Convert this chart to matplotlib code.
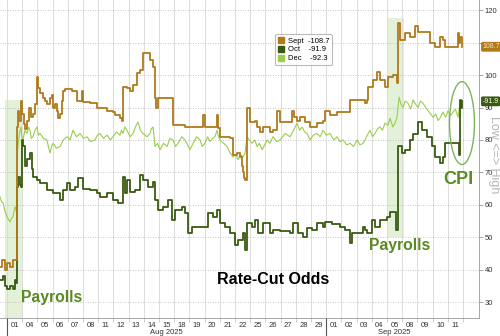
import matplotlib
matplotlib.use("Agg")
import matplotlib.pyplot as plt
import matplotlib.transforms as mtrans
from matplotlib.patches import Patch, Ellipse, Rectangle

plt.rcParams['font.family'] = ['Liberation Sans', 'DejaVu Sans']

# -----------------------------
# Data (x = trading-day index, 0 = Aug 1 2025)
# -----------------------------
day_labels = ["01", "04", "05", "06", "07", "08", "11", "12", "13", "14", "15",
              "18", "19", "20", "21", "22", "25", "26", "27", "28", "29",
              "01", "02", "03", "04", "05", "08", "09", "10", "11"]

y_ticks = [30, 40, 50, 60, 70, 80, 90, 100, 110, 120]
y_tick_labels = ["30", "40", "50", "60", "70", "80", "90", "100", "", "120"]

sept_t = [-0.46, -0.3, -0.15, 0.0, 0.2, 0.39, 0.55,
          0.66, 0.72, 0.8, 0.92, 0.99, 1.1, 1.18, 1.32, 1.45, 1.55, 1.71, 1.84, 1.97,
          2.05, 2.17, 2.37, 2.5, 2.63, 2.83, 2.96, 3.03, 3.15, 3.29, 3.36, 3.49, 3.62,
          3.68, 3.8, 4.01, 4.3, 4.61, 4.8, 4.93, 5.0, 5.46, 5.92, 6.3, 6.58, 6.97, 7.11,
          7.43, 7.55, 7.63, 7.89, 8.1, 8.29, 8.55, 8.75, 8.95, 9.21, 9.41, 9.61, 9.74,
          9.8, 9.93, 10.72, 10.92, 11.71, 12.7, 12.89, 13.03, 13.82, 13.88, 14.01, 14.67,
          14.87, 15.1, 15.33, 15.45, 15.53, 15.59, 15.66, 15.79, 15.99, 16.32, 16.45,
          16.64, 16.84, 17.3, 17.5, 17.76, 17.96, 18.42, 18.75, 18.9, 19.08, 19.28,
          19.61, 19.93, 20.39, 20.79, 20.92, 21.25, 21.71, 22.37, 22.57, 23.22, 23.55,
          23.68, 23.75, 24.08, 24.34, 24.54, 24.87, 25.07, 25.39, 25.66, 25.72, 25.85,
          26.18, 26.51, 26.84, 27.04, 27.63, 27.83, 28.16, 28.49, 28.68, 28.82, 29.61,
          29.67, 29.74, 29.8, 29.93]
sept_v = [41, 43, 40, 42, 41, 43, 43,
          84, 89, 86, 92, 88, 85, 83.5, 86, 90, 87, 88, 91, 99.4,
          96, 94.5, 93, 92, 91, 93, 94, 90, 91, 89, 86.7, 88, 92,
          95, 95.6, 95.6, 95, 92, 92, 95, 91.7, 91.3, 90, 90, 89, 88.5, 87.7,
          86.7, 86, 96.3, 96, 95, 97, 100.6, 101.5, 106.7, 106.7, 104.6, 102.5, 93,
          90, 93, 93, 84.6, 84, 84, 87.7, 84, 87.7, 83.7, 81, 80.6,
          75.4, 76, 74.8, 72, 70, 68.3, 67.7, 90, 85.5, 86, 84,
          82.5, 84, 82.5, 83, 89, 85.5, 85.5, 89, 87, 86, 87,
          85.5, 84, 85.2, 86, 89, 87.7, 88.6, 88.6, 92.3, 92.3, 91.3,
          92.3, 96.3, 98.5, 101, 98.5, 96.3, 99.4, 100, 97.5, 116, 110.8,
          113, 111.8, 115, 113.3, 113.3, 109.8, 108.6, 111.8, 110.8, 108.6, 108.6,
          113, 109.8, 111.8, 108.7]

oct_t = [-0.46, -0.26, -0.1, 0.0, 0.2, 0.39, 0.53, 0.62, 0.66, 0.72, 0.85, 0.92, 0.99,
         1.05, 1.18, 1.32, 1.51, 1.64, 1.71, 1.97, 2.17, 2.63, 3.03, 3.49, 3.68, 3.95,
         4.14, 4.47, 4.67, 5.0, 5.46, 5.92, 6.12, 6.58, 6.97, 7.3, 7.63, 7.75, 7.89,
         8.09, 8.42, 8.75, 8.95, 9.28, 9.61, 9.74, 9.93, 10.26, 10.59, 10.86, 11.05,
         11.51, 11.71, 11.91, 12.17, 12.89, 13.22, 13.55, 13.82, 14.01, 14.34, 14.67,
         15.0, 15.2, 15.53, 15.66, 15.79, 16.12, 16.32, 16.51, 16.84, 17.3, 17.5, 17.96,
         18.62, 18.82, 19.14, 19.47, 19.74, 20.07, 20.39, 20.79, 20.92, 21.38, 21.91,
         22.24, 22.57, 22.7, 23.09, 23.42, 23.55, 23.68, 24.01, 24.21, 24.54, 25.0,
         25.2, 25.53, 25.59, 25.72, 25.99, 26.18, 26.51, 26.71, 27.04, 27.3, 27.63,
         27.96, 28.16, 28.49, 28.68, 28.82, 29.61, 29.74, 29.8, 29.87, 29.93]
oct_v = [37, 38, 35, 34, 35, 34, 37, 36, 65.5, 68.6, 66, 65.5, 80,
         78, 72, 74, 76, 71, 68.6, 67.7, 66.8, 64.6, 63.7, 61.5, 64.6, 66.8,
         64.6, 65.5, 68.3, 65, 64.6, 63.7, 62.5, 63.7, 61.5, 60.6, 68.6, 63.7, 67.7,
         64, 64.6, 69.2, 67.7, 65.5, 67, 61.5, 58.5, 59.4, 61.5, 55.4, 58.5,
         59.4, 57.5, 51.4, 53.2, 53.2, 57.5, 56.3, 58.5, 54.5, 53.2, 51.4,
         47.7, 49.2, 51.4, 46, 54.5, 53.2, 55.4, 51.4, 54.5, 51.5, 52.3, 52,
         51.4, 54.5, 51.4, 50.2, 53, 52.3, 54.5, 53.2, 54.8, 54, 53.2,
         52.3, 48.2, 51.4, 51.4, 53.2, 52.3, 51.4, 55.4, 53.2, 55.4, 56.3,
         57.8, 57.8, 52.3, 78, 76, 77, 80, 82, 85.5, 83, 81,
         78, 74.8, 72.9, 74.8, 79, 79, 75.4, 92.3, 90, 91.9]

dec_points = [
    (-0.46, 62.5), (-0.36, 61), (-0.26, 60.6), (-0.13, 58), (0.0, 56.3), (0.1, 55.5),
    (0.2, 54.8), (0.3, 56), (0.39, 56.3), (0.46, 58), (0.53, 59.4), (0.62, 58),
    (0.66, 74), (0.72, 78), (0.82, 82), (0.92, 84), (0.98, 81), (1.05, 80), (1.18, 83),
    (1.32, 82), (1.42, 84), (1.51, 83), (1.6, 80.5), (1.71, 81), (1.84, 83), (1.97, 84),
    (2.07, 81.5), (2.17, 82), (2.4, 80.5), (2.63, 80), (2.72, 78), (2.83, 76), (2.93, 78),
    (3.03, 79), (3.25, 77.5), (3.49, 78), (3.7, 80), (3.95, 81), (4.15, 80), (4.34, 83),
    (4.57, 81), (4.8, 82), (5.05, 80.5), (5.26, 81), (5.5, 79.5), (5.79, 80), (5.95, 81.5),
    (6.12, 82), (6.35, 80.5), (6.58, 81.5), (6.8, 80), (6.97, 81), (7.2, 82.5), (7.43, 81.5),
    (7.53, 83), (7.63, 82), (7.76, 84), (7.89, 83), (8.1, 81), (8.29, 82), (8.45, 84),
    (8.62, 85.5), (8.78, 83), (8.95, 82), (9.2, 81), (9.41, 82), (9.5, 83.5), (9.61, 84),
    (9.74, 78), (9.9, 79), (10.07, 77), (10.3, 79), (10.53, 78), (10.72, 80.5), (10.92, 80),
    (11.1, 78), (11.25, 79), (11.5, 81), (11.71, 80), (11.88, 78.5), (12.04, 77), (12.14, 78),
    (12.24, 79), (12.48, 81), (12.7, 80), (12.85, 78), (13.03, 79), (13.2, 81), (13.36, 79.5),
    (13.52, 80.5), (13.68, 81), (13.75, 82), (13.82, 83), (13.92, 81), (14.01, 80),
    (14.25, 79), (14.47, 78), (14.68, 76), (14.87, 74.8), (15.05, 75.5), (15.2, 74),
    (15.36, 75.5), (15.53, 74.8), (15.66, 76), (15.79, 81), (15.95, 80), (16.12, 79),
    (16.3, 80), (16.45, 78), (16.6, 79), (16.78, 77), (16.95, 78.5), (17.11, 80), (17.3, 79),
    (17.5, 81), (17.75, 79.5), (17.96, 80), (18.3, 82), (18.62, 81), (18.85, 83),
    (19.08, 85.2), (19.25, 83), (19.41, 84), (19.58, 82.5), (19.74, 82), (19.84, 81),
    (19.93, 80), (20.15, 81.5), (20.39, 82), (20.6, 81), (20.79, 83), (21.0, 81.5),
    (21.25, 82), (21.5, 80), (21.71, 81), (21.9, 79.5), (22.11, 80), (22.35, 78.5),
    (22.57, 79), (22.8, 78), (23.03, 80), (23.22, 78.5), (23.42, 79), (23.55, 80),
    (23.7, 81.5), (23.88, 83), (24.05, 81), (24.21, 82), (24.38, 83.5), (24.54, 84),
    (24.7, 83), (24.87, 85.2), (25.05, 84.5), (25.2, 86.7), (25.38, 84), (25.53, 85.2),
    (25.66, 87), (25.79, 93.2), (25.92, 91), (26.05, 90), (26.2, 92), (26.38, 91.3),
    (26.55, 89.5), (26.71, 92.3), (26.88, 91), (27.04, 90), (27.2, 92), (27.37, 91.3),
    (27.55, 90), (27.7, 89), (27.87, 88), (28.03, 87), (28.2, 88), (28.36, 86), (28.52, 87),
    (28.68, 88.6), (28.85, 87), (29.01, 89), (29.18, 87.5), (29.34, 88.6), (29.5, 89.5),
    (29.67, 87), (29.8, 91.3), (29.93, 92.3),
]
dec_t = [p[0] for p in dec_points]
dec_v = [p[1] for p in dec_points]

sept_c = "#b07a1a"
oct_c = "#3a5a12"
dec_c = "#9acd4c"
note_c = "#5a8a22"

# -----------------------------
# Figure
# -----------------------------
fig = plt.figure(figsize=(5, 3.36), dpi=100)
ax = fig.add_axes([0, 18 / 336, 479 / 500, 318 / 336])

ax.set_xlim(-0.46, 31.05)
ax.set_ylim(25.2, 123.1)

# event shading
ax.add_patch(Rectangle((-0.1, 25.2), 1.1, 67, color="#e3f1d9", zorder=0, lw=0))
ax.add_patch(Rectangle((25.05, 50), 1.05, 67.5, color="#e3f1d9", zorder=0, lw=0))

# grid
for d in range(0, 31):
    ax.axvline(d, color="#dcdcdc", lw=0.7, zorder=0.5)
for v in y_ticks:
    ax.axhline(v, color="#b5b5b5", lw=0.6, ls=(0, (1, 2)), zorder=0.5)

ax.plot(dec_t, dec_v, color=dec_c, lw=0.8, zorder=2)
ax.plot(oct_t, oct_v, color=oct_c, lw=1.3, drawstyle="steps-post", zorder=3)
ax.plot(sept_t, sept_v, color=sept_c, lw=1.3, drawstyle="steps-post", zorder=3)

# axes styling
for s in ["top", "left"]:
    ax.spines[s].set_visible(False)
ax.spines["right"].set_color("#999999")
ax.spines["bottom"].set_color("#999999")
ax.spines["right"].set_linewidth(0.6)
ax.spines["bottom"].set_linewidth(0.6)

ax.yaxis.tick_right()
ax.set_yticks(y_ticks)
ax.set_yticklabels(y_tick_labels)
ax.tick_params(axis="y", direction="out", length=3, width=0.6, color="#999999",
               labelsize=5.5, labelcolor="#333333", pad=1)

ax.set_xticks(range(0, 31))
ax.set_xticklabels([])
ax.set_xticks([d + 0.5 for d in range(30)], minor=True)
ax.set_xticklabels(day_labels, minor=True)
ax.tick_params(axis="x", which="major", direction="out", length=3, width=0.5, color="#bbbbbb")
ax.tick_params(axis="x", which="minor", length=0, labelsize=5.5, labelcolor="#333333", pad=3)

# month separators and labels
trans = mtrans.blended_transform_factory(ax.transData, ax.transAxes)
for d in [0, 21]:
    ax.plot([d, d], [0, -0.06], transform=trans, color="#555555", lw=0.8, clip_on=False)
ax.text(10.5, -0.045, "Aug 2025", transform=trans, ha="center", va="center",
        fontsize=5.5, color="#333333")
ax.text(25.5, -0.045, "Sep 2025", transform=trans, ha="center", va="center",
        fontsize=5.5, color="#333333")

# legend
handles = [Patch(color=sept_c), Patch(color=oct_c), Patch(color=dec_c)]
labels = ["Sept  -108.7", "Oct    -91.9", "Dec    -92.3"]
leg = ax.legend(handles, labels, loc="upper left", bbox_to_anchor=(0.566, 0.905),
                fontsize=5.5, frameon=True, handlelength=0.9, handleheight=0.9,
                handletextpad=0.4, labelspacing=0.15, borderpad=0.35, fancybox=True)
leg.get_frame().set_edgecolor("#aaaaaa")
leg.get_frame().set_linewidth(0.8)
leg.get_frame().set_facecolor("white")

# last-value tags on right axis
ax.annotate("108.7", xy=(1.0, sept_v[-1]), xycoords=("axes fraction", "data"),
            xytext=(2.5, 0), textcoords="offset points", ha="left", va="center",
            fontsize=5, color="#f3e2c0", annotation_clip=False,
            bbox=dict(boxstyle="round,pad=0.2", fc=sept_c, ec="none"))
ax.annotate("-91.9", xy=(1.0, oct_v[-1]), xycoords=("axes fraction", "data"),
            xytext=(2.5, 0), textcoords="offset points", ha="left", va="center",
            fontsize=5, color="white", annotation_clip=False,
            bbox=dict(boxstyle="round,pad=0.2", fc=oct_c, ec="none"))

fig.text(0.987, 0.54, "Low <=> High", rotation=270, ha="center", va="center",
         fontsize=9, color="#b5b5b5")

# annotations
ax.add_patch(Ellipse((29.93, 85.2), 1.64, 25.5, fill=False, ec="#7ab55c", lw=1.0, zorder=4))
ax.text(29.67, 67.7, "CPI", ha="center", va="center", fontsize=13,
        fontweight="bold", color=note_c)
ax.text(2.96, 31.4, "Payrolls", ha="center", va="center", fontsize=11.3,
        fontweight="bold", color=note_c)
ax.text(25.86, 47.4, "Payrolls", ha="center", va="center", fontsize=11.3,
        fontweight="bold", color=note_c)
ax.text(17.5, 36.9, "Rate-Cut Odds", ha="center", va="center", fontsize=11.5,
        fontweight="bold", color="black")

fig.savefig("out.png", dpi=100)
